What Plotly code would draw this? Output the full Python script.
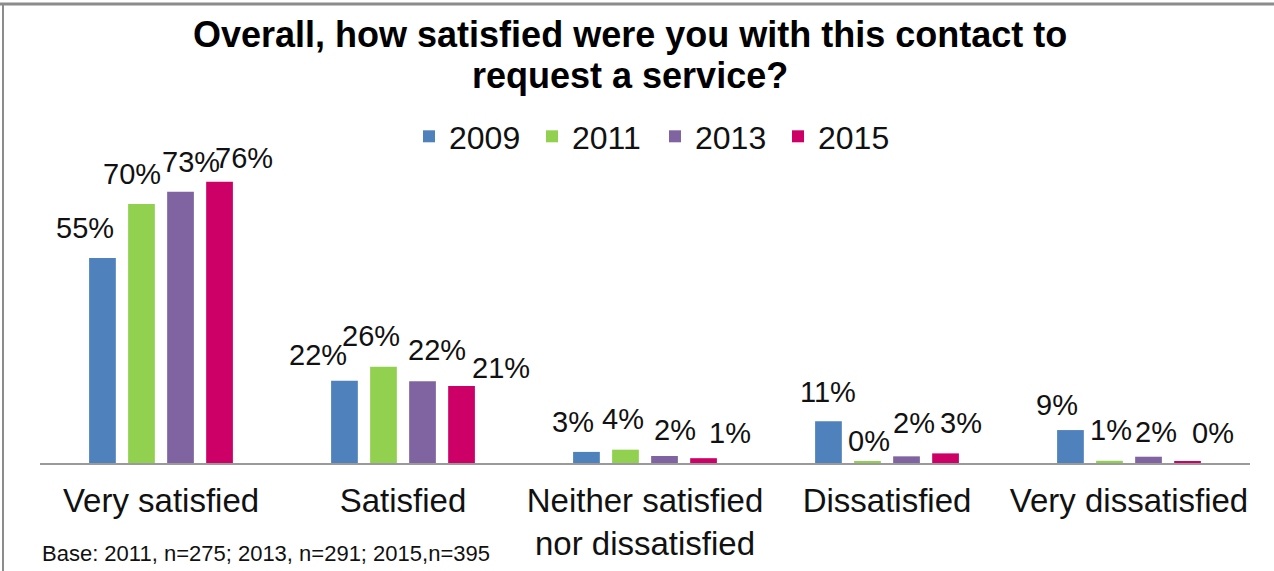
import plotly.graph_objects as go

# Survey responses, percent of respondents per year
categories = ["Very satisfied", "Satisfied", "Neither satisfied<br>nor dissatisfied",
              "Dissatisfied", "Very dissatisfied"]
years = ["2009", "2011", "2013", "2015"]
pct_2009 = [55.4, 22.2, 3.0, 11.3, 8.9]
pct_2011 = [70.0, 26.0, 3.6, 0.4, 0.6]
pct_2013 = [73.3, 22.1, 1.9, 1.8, 1.7]
pct_2015 = [76.0, 20.8, 1.3, 2.6, 0.4]
series = [pct_2009, pct_2011, pct_2013, pct_2015]
colors = ["#4F81BD", "#92D050", "#8064A2", "#CC0066"]

title_lines = ["Overall, how satisfied were you with this contact to", "request a service?"]
footnote = "Base: 2011, n=275; 2013, n=291; 2015,n=395"

# Data-label nudges (px) so neighbouring labels do not collide:
# horizontal shift from the bar centre, and clearance above the bar top.
label_dx = [
    [-17, -26, -13.5, 0, -13.5],
    [-9, -12, -2.5, 2, 1.5],
    [10, 14, 10, 7.5, 7],
    [24, 39, 26, 15, 25],
]
label_gap = [
    [17.7, 14.3, 18.4, 17.4, 12.6],
    [18, 19, 18.3, 8.3, 18.3],
    [18, 19.3, 14.3, 21, 12.7],
    [12, 5.7, 13.3, 18.3, 16.7],
]

W, H = 1274, 571
M_L, M_R, M_T, M_B = 40, 24, 167, 108
Y_MAX = 80
BARGAP, GROUPGAP = 0.355, 0.315
FONT = "Liberation Sans, Arial, sans-serif"

plot_w = W - M_L - M_R
plot_h = H - M_T - M_B


def px_x(px):
    return (px - M_L) / plot_w


def px_y(py):
    return (H - M_B - py) / plot_h


fig = go.Figure()
for name, vals, col in zip(years, series, colors):
    fig.add_trace(go.Bar(
        x=categories, y=vals, name=name,
        marker=dict(color=col, line=dict(width=0)),
        hoverinfo="skip",
    ))

# value labels above each bar, offset to the bar's slot in the group
cat_w = plot_w / len(categories)
slot = cat_w * (1 - BARGAP) / len(years)
annotations = []
for i, vals in enumerate(series):
    shift = (i - (len(years) - 1) / 2) * slot
    for j, (cat, v) in enumerate(zip(categories, vals)):
        annotations.append(dict(
            x=cat, y=v, xref="x", yref="y", text=f"{round(v):d}%",
            showarrow=False, xanchor="center", yanchor="bottom",
            xshift=shift + label_dx[i][j], yshift=label_gap[i][j] - 6,
            font=dict(family=FONT, size=29, color="#111111"),
        ))

# chart title, one annotation per line
for line, cy in zip(title_lines, [34, 75]):
    annotations.append(dict(
        x=px_x(630), y=px_y(cy), xref="paper", yref="paper", text=line,
        showarrow=False, xanchor="center", yanchor="middle",
        font=dict(family=FONT, size=36, color="#000000", weight="bold"),
    ))

annotations.append(dict(
    x=px_x(40), y=px_y(553), xref="paper", yref="paper", text=footnote,
    showarrow=False, xanchor="left", yanchor="middle",
    font=dict(family=FONT, size=22, color="#111111"),
))

shapes = [
    dict(type="line", xref="paper", yref="paper", x0=px_x(0), x1=px_x(W),
         y0=px_y(4), y1=px_y(4), line=dict(color="#8c8c8c", width=3)),
    dict(type="line", xref="paper", yref="paper", x0=px_x(3), x1=px_x(3),
         y0=px_y(4), y1=px_y(H), line=dict(color="#8c8c8c", width=2)),
]

fig.update_layout(
    width=W, height=H,
    margin=dict(l=M_L, r=M_R, t=M_T, b=M_B, autoexpand=False),
    paper_bgcolor="white", plot_bgcolor="white",
    barmode="group", bargap=BARGAP, bargroupgap=GROUPGAP,
    legend=dict(orientation="h", x=655 / W, xref="container", xanchor="center",
                y=1 - 109 / H, yref="container", yanchor="top",
                font=dict(family=FONT, size=32, color="#111111"),
                itemwidth=30, entrywidth=78, entrywidthmode="pixels",
                traceorder="normal", bgcolor="rgba(0,0,0,0)"),
    xaxis=dict(showline=True, linecolor="#9a9a9a", linewidth=2, ticks="",
               ticklabelstandoff=7,
               tickfont=dict(family=FONT, size=33, color="#111111"),
               showgrid=False, zeroline=False, fixedrange=True),
    yaxis=dict(range=[0, Y_MAX], visible=False, showgrid=False, zeroline=False),
    annotations=annotations, shapes=shapes,
    showlegend=True,
)

fig.write_html("out.html")
